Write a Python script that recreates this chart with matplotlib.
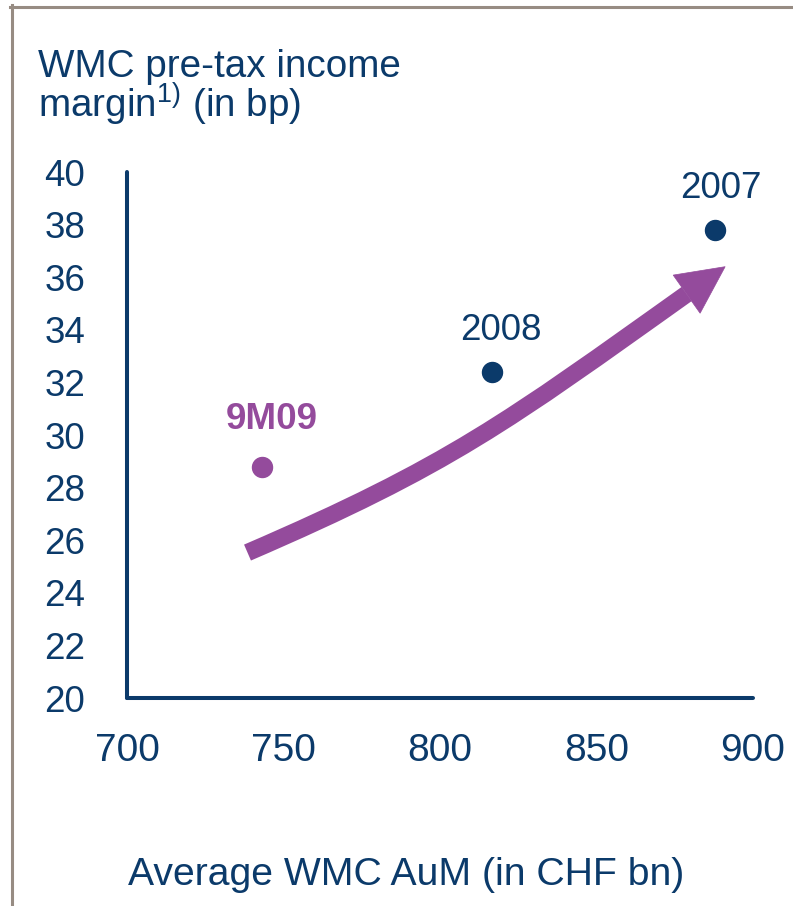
import matplotlib
matplotlib.use("Agg")
import matplotlib.pyplot as plt
from matplotlib.path import Path
from matplotlib.patches import PathPatch, Polygon
from matplotlib.lines import Line2D

plt.rcParams['font.family'] = ['Liberation Sans', 'DejaVu Sans']
plt.rcParams['mathtext.fontset'] = 'custom'
plt.rcParams['mathtext.rm'] = 'Liberation Sans'
plt.rcParams['mathtext.it'] = 'Liberation Sans:italic'

# Data: average AuM (CHF bn) vs. pre-tax income margin (bp)
periods = ["2007", "2008", "9M09"]
aum = [888, 816.5, 743]
margin = [37.8, 32.4, 28.8]

x_ticks = [700, 750, 800, 850, 900]
y_ticks = [20, 22, 24, 26, 28, 30, 32, 34, 36, 38, 40]

NAVY = '#0b3a6a'
PURPLE = '#944b9c'
BORDER = '#978c83'

W, H = 793, 906
fig = plt.figure(figsize=(W / 100, H / 100), dpi=100)
fig.patch.set_facecolor('white')

ax = fig.add_axes([127 / W, 1 - 698 / H, (753 - 127) / W, (698 - 172) / H])
ax.set_xlim(700, 900)
ax.set_ylim(20, 40)
ax.set_xticks(x_ticks)
ax.set_yticks(y_ticks)
ax.set_xticklabels([str(v) for v in x_ticks])
ax.set_yticklabels([str(v) for v in y_ticks])
ax.tick_params(axis='both', length=0, labelcolor=NAVY)
ax.tick_params(axis='y', pad=30, labelsize=26.5)
ax.tick_params(axis='x', pad=25, labelsize=28)
for side in ('top', 'right'):
    ax.spines[side].set_visible(False)
for side in ('left', 'bottom'):
    ax.spines[side].set_color(NAVY)
    ax.spines[side].set_linewidth(2.9)
    ax.spines[side].set_capstyle('round')
ax.patch.set_alpha(0)

# Curved trend arrow (cubic Bezier shaft + triangular head), data coordinates
shaft_pts = [(738.5, 25.53), (803.0, 28.84), (821.6, 30.51), (878.8, 35.36)]
head_pts = [(891.1, 36.40), (874.5, 36.08), (883.1, 34.63)]
shaft = PathPatch(Path(shaft_pts, [Path.MOVETO, Path.CURVE4, Path.CURVE4, Path.CURVE4]),
                  facecolor='none', edgecolor=PURPLE, linewidth=12.5,
                  capstyle='butt', zorder=2)
ax.add_patch(shaft)
ax.add_patch(Polygon(head_pts, closed=True, facecolor=PURPLE, edgecolor=PURPLE,
                     linewidth=0.5, zorder=2))

# Points and their period labels
colors = [NAVY, NAVY, PURPLE]
label_offsets = [(4, 30), (7, 30), (7, 34)]
weights = ['normal', 'normal', 'bold']
for p, xv, yv, c, off, wt in zip(periods, aum, margin, colors, label_offsets, weights):
    ax.plot([xv], [yv], 'o', ms=14.4, color=c, mec=c, zorder=3, clip_on=False)
    ax.annotate(p, (xv, yv), xytext=off, textcoords='offset points',
                ha='center', va='center', fontsize=26.5, color=c, fontweight=wt,
                annotation_clip=False)

# Axis titles
fig.text(38 / W, 1 - 77 / H, "WMC pre-tax income", fontsize=27.8, color=NAVY,
         ha='left', va='baseline')
fig.text(38 / W, 1 - 118 / H, r"margin$^{1)}$ (in bp)", fontsize=27.8, color=NAVY,
         ha='left', va='baseline')
fig.text(128 / W, 1 - 885 / H, "Average WMC AuM (in CHF bn)", fontsize=28.2,
         color=NAVY, ha='left', va='baseline')

# Frame lines along the left and top edges
fig.add_artist(Line2D([11.5 / W, 11.5 / W], [0, 1 - 5 / H], color=BORDER,
                      linewidth=2.2, transform=fig.transFigure))
fig.add_artist(Line2D([10 / W, 1], [1 - 6.5 / H, 1 - 6.5 / H], color=BORDER,
                      linewidth=2.2, transform=fig.transFigure))

fig.savefig('out.png', dpi=100, facecolor='white')
